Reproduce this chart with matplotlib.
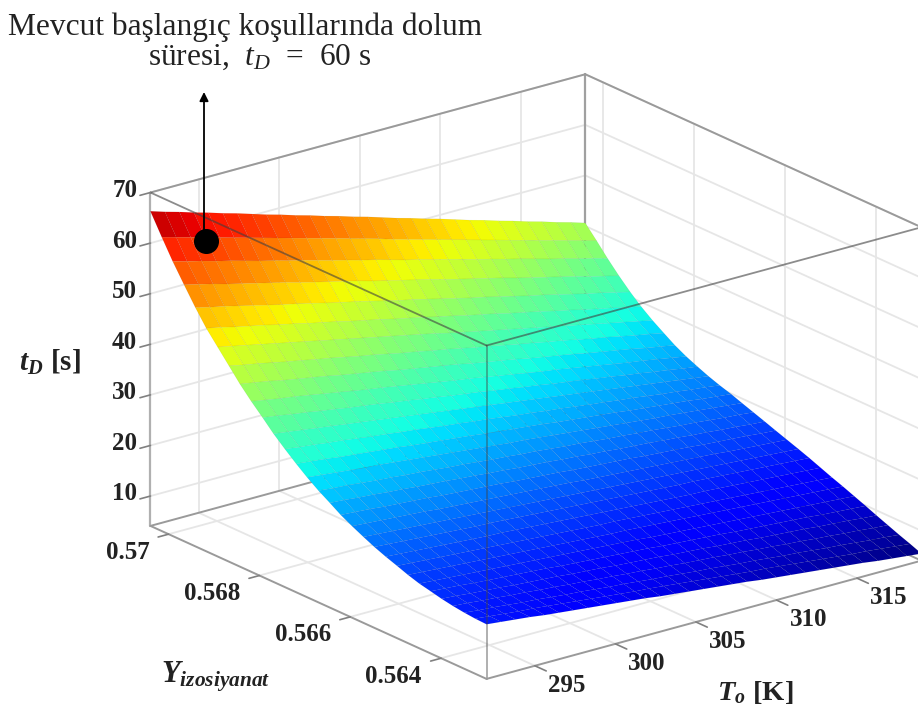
import numpy as np
import matplotlib
matplotlib.use('Agg')
import matplotlib.pyplot as plt
from mpl_toolkits.mplot3d import proj3d

plt.rcParams['font.family'] = ['Liberation Serif', 'DejaVu Serif']
plt.rcParams['mathtext.fontset'] = 'custom'
plt.rcParams['mathtext.rm'] = 'Liberation Serif'
plt.rcParams['mathtext.it'] = 'Liberation Serif:italic'
plt.rcParams['mathtext.bf'] = 'Liberation Serif:bold'
plt.rcParams['mathtext.bfit'] = 'Liberation Serif:italic:bold'

#### Data
T_grid = [292.0, 292.9, 293.8, 294.7, 295.6, 296.5, 297.4, 298.3, 299.2, 300.1, 301.0,
          301.9, 302.8, 303.7, 304.6, 305.5, 306.4, 307.3, 308.2, 309.1, 310.0,
          310.9, 311.8, 312.7, 313.6, 314.5, 315.4, 316.3, 317.2, 318.1, 319.0]
Y_grid = [0.5704, 0.57015, 0.56991, 0.56966, 0.56941, 0.56917, 0.56892, 0.56867, 0.56843, 0.56818, 0.56793,
          0.56769, 0.56744, 0.56719, 0.56695, 0.5667, 0.56645, 0.56621, 0.56596, 0.56571, 0.56547,
          0.56522, 0.56497, 0.56473, 0.56448, 0.56423, 0.56399, 0.56374, 0.56349, 0.56325, 0.563]
# one row per Y_grid value, one column per T_grid value
tD = [
    [66.3, 65.4, 64.6, 63.7, 62.9, 62.0, 61.2, 60.3, 59.4, 58.6, 57.7, 56.9, 56.0, 55.2, 54.3, 53.5, 52.6, 51.7, 50.9, 50.0, 49.2, 48.3, 47.4, 46.6, 45.7, 44.9, 44.0, 43.2, 42.3, 41.5, 40.6],
    [62.2, 61.4, 60.6, 59.8, 59.0, 58.2, 57.4, 56.6, 55.8, 55.0, 54.2, 53.4, 52.6, 51.8, 51.0, 50.2, 49.3, 48.5, 47.7, 46.9, 46.1, 45.3, 44.5, 43.7, 42.9, 42.1, 41.3, 40.5, 39.7, 38.9, 38.1],
    [58.4, 57.6, 56.9, 56.1, 55.4, 54.6, 53.8, 53.1, 52.3, 51.6, 50.8, 50.0, 49.3, 48.5, 47.8, 47.0, 46.2, 45.5, 44.7, 44.0, 43.2, 42.4, 41.7, 40.9, 40.2, 39.4, 38.6, 37.9, 37.1, 36.4, 35.6],
    [54.8, 54.1, 53.4, 52.6, 51.9, 51.2, 50.5, 49.8, 49.0, 48.3, 47.6, 46.9, 46.2, 45.4, 44.7, 44.0, 43.3, 42.6, 41.8, 41.1, 40.4, 39.7, 39.0, 38.2, 37.5, 36.8, 36.1, 35.4, 34.6, 33.9, 33.2],
    [51.3, 50.6, 50.0, 49.3, 48.6, 47.9, 47.2, 46.6, 45.9, 45.2, 44.5, 43.9, 43.2, 42.5, 41.8, 41.2, 40.5, 39.8, 39.1, 38.4, 37.8, 37.1, 36.4, 35.7, 35.1, 34.4, 33.7, 33.0, 32.4, 31.7, 31.0],
    [48.2, 47.6, 46.9, 46.3, 45.7, 45.0, 44.4, 43.7, 43.1, 42.5, 41.8, 41.2, 40.6, 39.9, 39.3, 38.7, 38.0, 37.4, 36.7, 36.1, 35.5, 34.8, 34.2, 33.6, 32.9, 32.3, 31.6, 31.0, 30.4, 29.7, 29.1],
    [45.5, 44.9, 44.3, 43.7, 43.1, 42.5, 41.9, 41.3, 40.7, 40.1, 39.5, 38.9, 38.3, 37.7, 37.1, 36.5, 35.8, 35.2, 34.6, 34.0, 33.4, 32.8, 32.2, 31.6, 31.0, 30.4, 29.8, 29.2, 28.6, 28.0, 27.4],
    [42.8, 42.2, 41.7, 41.1, 40.5, 40.0, 39.4, 38.9, 38.3, 37.7, 37.2, 36.6, 36.0, 35.5, 34.9, 34.4, 33.8, 33.2, 32.7, 32.1, 31.5, 31.0, 30.4, 29.9, 29.3, 28.7, 28.2, 27.6, 27.0, 26.5, 25.9],
    [40.2, 39.7, 39.2, 38.6, 38.1, 37.6, 37.1, 36.5, 36.0, 35.5, 35.0, 34.4, 33.9, 33.4, 32.9, 32.4, 31.8, 31.3, 30.8, 30.3, 29.7, 29.2, 28.7, 28.2, 27.6, 27.1, 26.6, 26.1, 25.5, 25.0, 24.5],
    [37.8, 37.3, 36.8, 36.4, 35.9, 35.4, 34.9, 34.4, 33.9, 33.5, 33.0, 32.5, 32.0, 31.5, 31.0, 30.6, 30.1, 29.6, 29.1, 28.6, 28.1, 27.7, 27.2, 26.7, 26.2, 25.7, 25.2, 24.8, 24.3, 23.8, 23.3],
    [35.6, 35.2, 34.7, 34.3, 33.8, 33.4, 32.9, 32.5, 32.1, 31.6, 31.2, 30.7, 30.3, 29.8, 29.4, 29.0, 28.5, 28.1, 27.6, 27.2, 26.7, 26.3, 25.9, 25.4, 25.0, 24.5, 24.1, 23.6, 23.2, 22.7, 22.3],
    [33.4, 33.0, 32.6, 32.2, 31.8, 31.4, 31.0, 30.6, 30.2, 29.8, 29.4, 29.0, 28.6, 28.2, 27.8, 27.4, 27.0, 26.6, 26.2, 25.8, 25.4, 25.0, 24.6, 24.2, 23.8, 23.4, 23.0, 22.6, 22.2, 21.8, 21.4],
    [31.4, 31.0, 30.7, 30.3, 30.0, 29.6, 29.2, 28.9, 28.5, 28.2, 27.8, 27.4, 27.1, 26.7, 26.4, 26.0, 25.6, 25.3, 24.9, 24.6, 24.2, 23.8, 23.5, 23.1, 22.8, 22.4, 22.0, 21.7, 21.3, 21.0, 20.6],
    [29.5, 29.2, 28.9, 28.5, 28.2, 27.9, 27.6, 27.3, 26.9, 26.6, 26.3, 26.0, 25.7, 25.3, 25.0, 24.7, 24.4, 24.1, 23.7, 23.4, 23.1, 22.8, 22.5, 22.1, 21.8, 21.5, 21.2, 20.9, 20.5, 20.2, 19.9],
    [27.8, 27.5, 27.2, 26.9, 26.6, 26.4, 26.1, 25.8, 25.5, 25.2, 24.9, 24.6, 24.3, 24.0, 23.7, 23.5, 23.2, 22.9, 22.6, 22.3, 22.0, 21.7, 21.4, 21.1, 20.8, 20.6, 20.3, 20.0, 19.7, 19.4, 19.1],
    [26.2, 25.9, 25.7, 25.4, 25.1, 24.9, 24.6, 24.4, 24.1, 23.8, 23.6, 23.3, 23.0, 22.8, 22.5, 22.3, 22.0, 21.7, 21.5, 21.2, 20.9, 20.7, 20.4, 20.2, 19.9, 19.6, 19.4, 19.1, 18.8, 18.6, 18.3],
    [24.8, 24.6, 24.3, 24.1, 23.8, 23.6, 23.3, 23.1, 22.9, 22.6, 22.4, 22.1, 21.9, 21.6, 21.4, 21.2, 20.9, 20.7, 20.4, 20.2, 19.9, 19.7, 19.5, 19.2, 19.0, 18.7, 18.5, 18.2, 18.0, 17.7, 17.5],
    [23.4, 23.2, 23.0, 22.7, 22.5, 22.3, 22.1, 21.8, 21.6, 21.4, 21.2, 21.0, 20.7, 20.5, 20.3, 20.1, 19.8, 19.6, 19.4, 19.2, 19.0, 18.7, 18.5, 18.3, 18.1, 17.8, 17.6, 17.4, 17.2, 16.9, 16.7],
    [22.2, 22.0, 21.8, 21.6, 21.4, 21.2, 20.9, 20.7, 20.5, 20.3, 20.1, 19.9, 19.7, 19.5, 19.3, 19.1, 18.8, 18.6, 18.4, 18.2, 18.0, 17.8, 17.6, 17.4, 17.2, 17.0, 16.7, 16.5, 16.3, 16.1, 15.9],
    [21.1, 20.9, 20.7, 20.5, 20.3, 20.1, 19.9, 19.7, 19.5, 19.3, 19.1, 18.9, 18.7, 18.5, 18.3, 18.1, 17.9, 17.7, 17.5, 17.3, 17.1, 16.9, 16.7, 16.5, 16.3, 16.1, 15.9, 15.7, 15.5, 15.3, 15.1],
    [20.1, 19.9, 19.7, 19.5, 19.3, 19.1, 18.9, 18.7, 18.6, 18.4, 18.2, 18.0, 17.8, 17.6, 17.4, 17.2, 17.0, 16.8, 16.6, 16.4, 16.2, 16.0, 15.9, 15.7, 15.5, 15.3, 15.1, 14.9, 14.7, 14.5, 14.3],
    [19.2, 19.0, 18.8, 18.6, 18.4, 18.2, 18.0, 17.8, 17.7, 17.5, 17.3, 17.1, 16.9, 16.7, 16.5, 16.3, 16.1, 15.9, 15.7, 15.5, 15.3, 15.1, 15.0, 14.8, 14.6, 14.4, 14.2, 14.0, 13.8, 13.6, 13.4],
    [18.4, 18.2, 18.0, 17.8, 17.6, 17.4, 17.2, 17.0, 16.8, 16.6, 16.4, 16.2, 16.0, 15.8, 15.6, 15.5, 15.3, 15.1, 14.9, 14.7, 14.5, 14.3, 14.1, 13.9, 13.7, 13.5, 13.3, 13.1, 12.9, 12.7, 12.5],
    [17.6, 17.4, 17.2, 17.0, 16.8, 16.6, 16.4, 16.2, 16.0, 15.8, 15.6, 15.4, 15.2, 15.0, 14.8, 14.7, 14.5, 14.3, 14.1, 13.9, 13.7, 13.5, 13.3, 13.1, 12.9, 12.7, 12.5, 12.3, 12.1, 11.9, 11.7],
    [16.9, 16.7, 16.5, 16.3, 16.1, 15.9, 15.7, 15.5, 15.3, 15.1, 14.9, 14.7, 14.5, 14.3, 14.1, 13.9, 13.6, 13.4, 13.2, 13.0, 12.8, 12.6, 12.4, 12.2, 12.0, 11.8, 11.6, 11.4, 11.2, 11.0, 10.8],
    [16.4, 16.2, 16.0, 15.7, 15.5, 15.3, 15.1, 14.9, 14.7, 14.4, 14.2, 14.0, 13.8, 13.6, 13.4, 13.2, 12.9, 12.7, 12.5, 12.3, 12.1, 11.8, 11.6, 11.4, 11.2, 11.0, 10.8, 10.5, 10.3, 10.1, 9.9],
    [15.9, 15.7, 15.4, 15.2, 15.0, 14.7, 14.5, 14.3, 14.1, 13.8, 13.6, 13.4, 13.1, 12.9, 12.7, 12.5, 12.2, 12.0, 11.8, 11.5, 11.3, 11.1, 10.8, 10.6, 10.4, 10.2, 9.9, 9.7, 9.5, 9.2, 9.0],
    [15.5, 15.3, 15.0, 14.8, 14.5, 14.3, 14.0, 13.8, 13.5, 13.3, 13.0, 12.8, 12.5, 12.3, 12.0, 11.8, 11.5, 11.3, 11.1, 10.8, 10.6, 10.3, 10.1, 9.8, 9.6, 9.3, 9.1, 8.8, 8.6, 8.3, 8.1],
    [15.2, 14.9, 14.7, 14.4, 14.1, 13.9, 13.6, 13.3, 13.1, 12.8, 12.5, 12.3, 12.0, 11.7, 11.5, 11.2, 10.9, 10.7, 10.4, 10.1, 9.9, 9.6, 9.3, 9.1, 8.8, 8.5, 8.3, 8.0, 7.7, 7.5, 7.2],
    [15.0, 14.7, 14.4, 14.1, 13.9, 13.6, 13.3, 13.0, 12.7, 12.4, 12.1, 11.8, 11.6, 11.3, 11.0, 10.7, 10.4, 10.1, 9.8, 9.5, 9.3, 9.0, 8.7, 8.4, 8.1, 7.8, 7.5, 7.3, 7.0, 6.7, 6.4],
    [14.9, 14.6, 14.3, 14.0, 13.6, 13.3, 13.0, 12.7, 12.4, 12.1, 11.8, 11.5, 11.1, 10.8, 10.5, 10.2, 9.9, 9.6, 9.3, 8.9, 8.6, 8.3, 8.0, 7.7, 7.4, 7.1, 6.8, 6.4, 6.1, 5.8, 5.5],
]
T_ticks = [295, 300, 305, 310, 315]
Y_ticks = [0.57, 0.568, 0.566, 0.564]
Y_tick_labels = ['0.57', '0.568', '0.566', '0.564']
Z_ticks = [10, 20, 30, 40, 50, 60, 70]
dot_T, dot_Y, dot_Z = 294.3, 0.5700, 60

T_min, T_max = 292.0, 319.0
Y_min, Y_max = 0.563, 0.5704
Z_min, Z_max = 4.1, 70.0

GRID = '#e6e6e6'
EDGE = '#9a9a9a'
W, H = 918, 715


def px(x, y):
    return x / W, 1 - y / H


fig = plt.figure(figsize=(W / 100, H / 100), dpi=100, facecolor='white')
ax = fig.add_axes([109.7 / W, -87.8 / H, 830 / W, 830 / H], projection='3d', proj_type='ortho')
ax.computed_zorder = False
ax.view_init(elev=20.6, azim=-127.7)
ax.set_box_aspect((1, 1, 0.648))
ax.set_xlim(T_min, T_max)
ax.set_ylim(Y_min, Y_max)
ax.set_zlim(Z_min, Z_max)
ax.set_axis_off()


def line3(xs, ys, zs, color=GRID, lw=1.3, z=1, alpha=1.0):
    ax.plot(xs, ys, zs, color=color, lw=lw, zorder=z, alpha=alpha, solid_capstyle='round')


def label3(t, y, zv, s, **kw):
    # project by hand so the label stays a plain 2D text
    x2, y2, _ = proj3d.proj_transform(t, y, zv, ax.get_proj())
    ax.text2D(x2, y2, s, transform=ax.transData, va='center', **kw)


# Back walls and floor grid
for t in T_ticks:
    line3([t, t], [Y_max, Y_max], [Z_min, Z_max])
    line3([t, t], [Y_min, Y_max], [Z_min, Z_min])
for y in Y_ticks:
    line3([T_max, T_max], [y, y], [Z_min, Z_max])
    line3([T_min, T_max], [y, y], [Z_min, Z_min])
for zt in Z_ticks:
    line3([T_min, T_max], [Y_max, Y_max], [zt, zt])
    line3([T_max, T_max], [Y_min, Y_max], [zt, zt])

# Back box edges
line3([T_min, T_max], [Y_max, Y_max], [Z_min, Z_min], EDGE, 1.4)
line3([T_max, T_max], [Y_min, Y_max], [Z_min, Z_min], EDGE, 1.4)
line3([T_min, T_min], [Y_max, Y_max], [Z_min, Z_max], '#b0b0b0', 1.6)
line3([T_max, T_max], [Y_max, Y_max], [Z_min, Z_max], '#a0a0a0', 1.6)
line3([T_min, T_max], [Y_max, Y_max], [Z_max, Z_max], EDGE, 1.4)
line3([T_max, T_max], [Y_min, Y_max], [Z_max, Z_max], EDGE, 1.4)

# Surface
TT, YY = np.meshgrid(T_grid, Y_grid)
ZZ = np.array(tD)
ax.plot_surface(TT, YY, ZZ, rstride=1, cstride=1, cmap='jet', vmin=5.5, vmax=68,
                linewidth=0.3, edgecolor=(0, 0, 0, 0.09), antialiased=True, shade=False, zorder=2)

# Front box edges, drawn over the surface
line3([T_min, T_min], [Y_min, Y_max], [Z_max, Z_max], '#404040', 1.3, 3, 0.6)
line3([T_min, T_max], [Y_min, Y_min], [Z_max, Z_max], '#404040', 1.3, 3, 0.6)
line3([T_min, T_min], [Y_min, Y_min], [Z_min, Z_max], '#404040', 1.3, 3, 0.45)
line3([T_min, T_min], [Y_min, Y_max], [Z_min, Z_min], EDGE, 1.4, 3)
line3([T_min, T_max], [Y_min, Y_min], [Z_min, Z_min], EDGE, 1.4, 3)

# Tick stubs and tick labels
tick_font = dict(fontsize=18, fontweight='bold', color='#222222', zorder=5)
for zt in Z_ticks:
    line3([T_min - 0.65, T_min], [Y_max, Y_max], [zt, zt], '#808080', 1.2, 3)
    label3(T_min - 1.6, Y_max, zt + 1.8, str(zt), ha='center', **tick_font)
for y, lab in zip(Y_ticks, Y_tick_labels):
    line3([T_min - 0.65, T_min], [y, y], [Z_min, Z_min], '#808080', 1.2, 3)
    label3(T_min - 1.2, y, Z_min - 2.5, lab, ha='right', **tick_font)
for t in T_ticks:
    line3([t, t], [Y_min - 0.00025, Y_min], [Z_min, Z_min], '#808080', 1.2, 3)
    label3(t, Y_min - 0.0007, Z_min - 1.0, str(t), ha='center', **tick_font)

# Marker at the current starting conditions
ax.plot([dot_T], [dot_Y], [dot_Z], 'o', color='k', markersize=17, zorder=6)

# Annotation arrow and texts
ax.annotate('', xy=px(204, 92), xytext=px(204, 239), xycoords='figure fraction', textcoords='figure fraction',
            arrowprops=dict(arrowstyle='-|>', color='k', lw=1.3, mutation_scale=13, shrinkA=0, shrinkB=0), zorder=7)
fig.text(*px(245, 27), 'Mevcut başlangıç koşullarında dolum', fontsize=22.6, ha='center', va='center', color='#222222')
fig.text(*px(260, 57), r'süresi,  $t_D$  =  60 s', fontsize=22.6, ha='center', va='center', color='#222222')
fig.text(*px(50, 362), r'$\mathbfit{t_D}$ [s]', fontsize=21, fontweight='bold', ha='center', va='center', color='#222222')
fig.text(*px(216, 677), r'$\mathbfit{Y_{izosiyanat}}$', fontsize=22, ha='center', va='center', color='#222222')
fig.text(*px(755, 693), r'$\mathbfit{T_o}$ [K]', fontsize=20.5, fontweight='bold', ha='center', va='center', color='#222222')

fig.savefig('out.png', dpi=100, facecolor='white')
